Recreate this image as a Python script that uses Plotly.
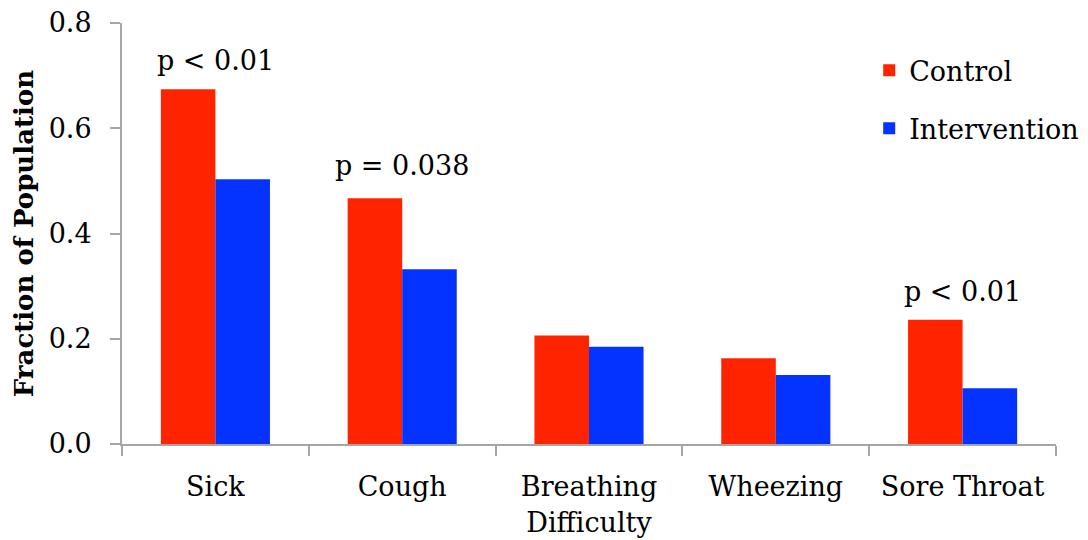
import plotly.graph_objects as go

categories = ["Sick", "Cough", "Breathing<br>Difficulty", "Wheezing", "Sore Throat"]
control = [0.674, 0.467, 0.206, 0.163, 0.236]
intervention = [0.503, 0.332, 0.185, 0.131, 0.106]
p_labels = ["p < 0.01", "p = 0.038", None, None, "p < 0.01"]
p_label_y = [0.728, 0.529, None, None, 0.290]
y_ticks = [0.0, 0.2, 0.4, 0.6, 0.8]
y_tick_text = ["0.0", "0.2", "0.4", "0.6", "0.8"]

FONT = "DejaVu Serif"
AXIS_GREY = "#a6a6a6"
FS = 27

fig = go.Figure()
fig.add_trace(go.Bar(name="Control", x=categories, y=control,
                     marker=dict(color="#ff2400", line=dict(width=0)),
                     legendgroup="c"))
fig.add_trace(go.Bar(name="Intervention", x=categories, y=intervention,
                     marker=dict(color="#0433ff", line=dict(width=0)),
                     legendgroup="i"))

for cat, lab, yy in zip(categories, p_labels, p_label_y):
    if lab:
        fig.add_annotation(x=cat, y=yy, text=lab, showarrow=False,
                           xref="x", yref="y", yanchor="middle",
                           font=dict(family=FONT, size=FS, color="black"))

fig.update_layout(
    width=1088, height=540,
    margin=dict(l=114, r=38, t=15, b=104),
    paper_bgcolor="white", plot_bgcolor="white",
    barmode="group", bargap=0.416, bargroupgap=0,
    font=dict(family=FONT, size=FS, color="black"),
    legend=dict(x=0.80, y=0.945, xanchor="left", yanchor="top",
                font=dict(family=FONT, size=FS, color="black"),
                tracegroupgap=20, bgcolor="rgba(0,0,0,0)"),
    showlegend=True,
)
fig.update_xaxes(
    showline=True, linecolor=AXIS_GREY, linewidth=2,
    ticks="outside", tickson="boundaries", ticklen=10, tickwidth=2,
    tickcolor=AXIS_GREY, showgrid=False, ticklabelstandoff=18,
    automargin=False,
    tickfont=dict(family=FONT, size=FS, color="black"),
)
fig.update_yaxes(
    range=[0, 0.8], tickmode="array", tickvals=y_ticks, ticktext=y_tick_text,
    showline=True, linecolor=AXIS_GREY, linewidth=2,
    ticks="outside", ticklen=10, tickwidth=2, tickcolor=AXIS_GREY,
    showgrid=False, zeroline=False, ticklabelstandoff=13,
    ticklabeloverflow="allow", automargin=False,
    tickfont=dict(family=FONT, size=FS, color="black"),
    title=dict(text="<b>Fraction of Population</b>", standoff=8,
               font=dict(family=FONT, size=26, color="black")),
)

fig.write_html("out.html")
